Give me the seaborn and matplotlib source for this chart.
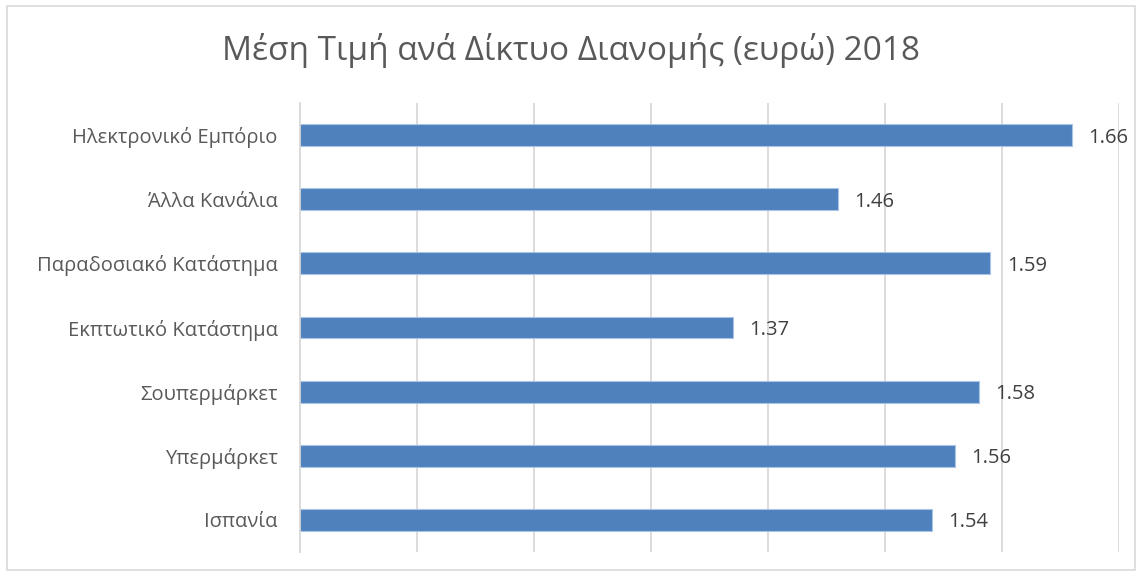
import matplotlib
matplotlib.use("Agg")
import pandas as pd
import seaborn as sns
from matplotlib import pyplot as plt
from matplotlib.patches import Rectangle

channels = ['Ηλεκτρονικό Εμπόριο', 'Άλλα Κανάλια', 'Παραδοσιακό Κατάστημα',
            'Εκπτωτικό Κατάστημα', 'Σουπερμάρκετ', 'Υπερμάρκετ', 'Ισπανία']
prices = [1.66, 1.46, 1.59, 1.37, 1.58, 1.56, 1.54]
grid_ticks = [1.0, 1.1, 1.2, 1.3, 1.4, 1.5, 1.6, 1.7]

sns.set_theme(style='white')
plt.rcParams['font.family'] = ['Open Sans', 'DejaVu Sans']

df = pd.DataFrame({'channel': channels, 'price': prices})

fig = plt.figure(figsize=(11.42, 5.76), dpi=100)
ax = fig.add_axes([300 / 1142, 1 - 552 / 576, 819 / 1142, 449 / 576])

sns.barplot(data=df, x='price', y='channel', orient='h', color='#4F81BD',
            saturation=1, width=0.34, edgecolor='#A9C4E6', linewidth=0.8, ax=ax)

# value labels to the right of each bar
for i, v in enumerate(prices):
    ax.text(v + 0.014, i, f"{v:.2f}", va='center_baseline', ha='left', fontsize=14.5, color='#404040')

ax.set_xlim(1.0, 1.7)
ax.set_xticks(grid_ticks)
ax.set_xticklabels([])
ax.xaxis.grid(True, color='#D9D9D9', linewidth=1.3)
ax.set_axisbelow(True)
ax.tick_params(axis='both', length=0)
ax.tick_params(axis='y', labelsize=14.5, labelcolor='#595959', pad=16)
ax.set_xlabel('')
ax.set_ylabel('')
for s in ['top', 'right', 'bottom']:
    ax.spines[s].set_visible(False)
ax.spines['left'].set_color('#D9D9D9')
ax.spines['left'].set_linewidth(1.3)

fig.text(0.5, 1 - 50 / 576, 'Μέση Τιμή ανά Δίκτυο Διανομής (ευρώ) 2018', ha='center', va='center',
         fontsize=24, color='#595959')

# chart frame
fig.add_artist(Rectangle((7 / 1142, 6 / 576), 1128 / 1142, 564 / 576, transform=fig.transFigure,
                         fill=False, edgecolor='#D9D9D9', linewidth=1.2))

fig.savefig('out.png', dpi=100)
